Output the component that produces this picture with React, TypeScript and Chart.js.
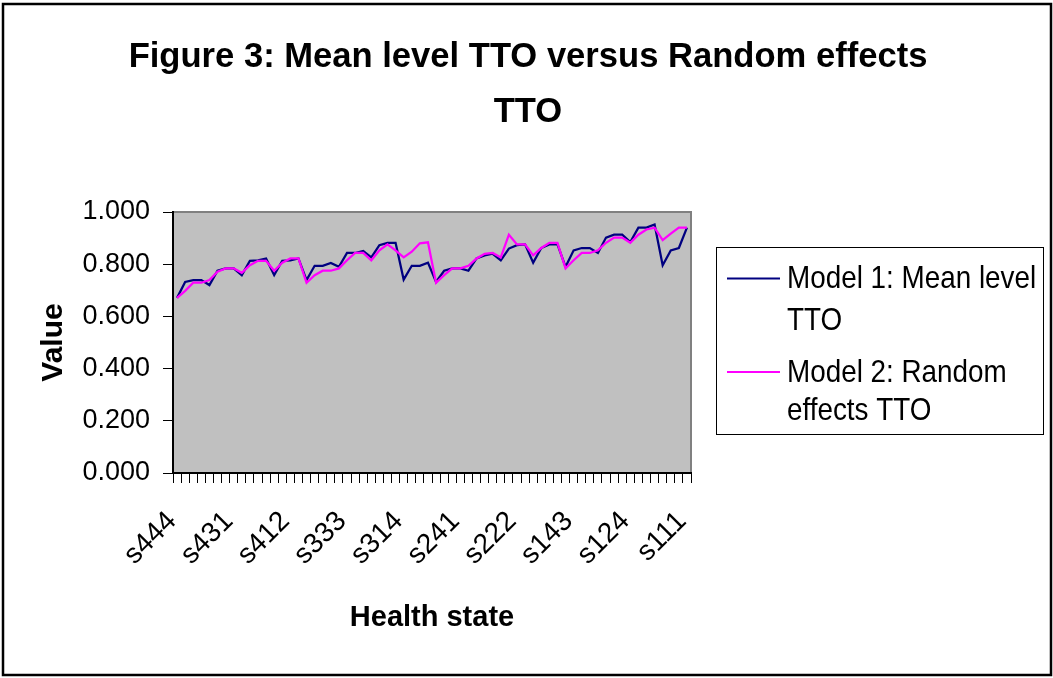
import React, { useEffect, useRef } from "react";
import { Chart, registerables } from "chart.js";

Chart.register(...registerables);

const healthStates = [
  "s444", "s443", "s442", "s441", "s434", "s433", "s432", "s431",
  "s424", "s423", "s422", "s421", "s414", "s413", "s412", "s411",
  "s344", "s343", "s342", "s341", "s334", "s333", "s332", "s331",
  "s324", "s323", "s322", "s321", "s314", "s313", "s312", "s311",
  "s244", "s243", "s242", "s241", "s234", "s233", "s232", "s231",
  "s224", "s223", "s222", "s221", "s214", "s213", "s212", "s211",
  "s144", "s143", "s142", "s141", "s134", "s133", "s132", "s131",
  "s124", "s123", "s122", "s121", "s114", "s113", "s112", "s111",
];

const shownTickLabels = ["s444", "s431", "s412", "s333", "s314", "s241", "s222", "s143", "s124", "s111"];

const model1Values = [
  0.671, 0.732, 0.739, 0.739, 0.720, 0.775, 0.784, 0.784,
  0.758, 0.813, 0.815, 0.822, 0.758, 0.813, 0.815, 0.822,
  0.739, 0.794, 0.794, 0.805, 0.790, 0.843, 0.843, 0.851,
  0.826, 0.873, 0.882, 0.882, 0.741, 0.794, 0.794, 0.806,
  0.732, 0.775, 0.784, 0.784, 0.775, 0.822, 0.834, 0.840,
  0.815, 0.860, 0.873, 0.876, 0.806, 0.862, 0.876, 0.876,
  0.790, 0.853, 0.862, 0.862, 0.843, 0.902, 0.913, 0.913,
  0.885, 0.940, 0.940, 0.952, 0.796, 0.853, 0.862, 0.940,
];

const model2Values = [
  0.671, 0.698, 0.729, 0.729, 0.739, 0.771, 0.784, 0.784,
  0.767, 0.796, 0.813, 0.813, 0.775, 0.806, 0.822, 0.822,
  0.729, 0.758, 0.775, 0.775, 0.784, 0.815, 0.843, 0.843,
  0.815, 0.853, 0.876, 0.853, 0.826, 0.848, 0.880, 0.884,
  0.729, 0.758, 0.784, 0.784, 0.794, 0.822, 0.840, 0.843,
  0.826, 0.913, 0.876, 0.876, 0.834, 0.862, 0.882, 0.882,
  0.784, 0.815, 0.843, 0.843, 0.853, 0.882, 0.902, 0.902,
  0.882, 0.913, 0.933, 0.940, 0.892, 0.917, 0.940, 0.940,
];

const seriesNames = ["Model 1: Mean level TTO", "Model 2: Random effects TTO"];
const legendLines = [["Model 1: Mean level", "TTO"], ["Model 2: Random", "effects TTO"]];
const seriesColors = ["#000080", "#FF00FF"];
const titleLines = ["Figure 3: Mean level TTO versus Random effects", "TTO"];
const xAxisTitle = "Health state";
const yAxisTitle = "Value";

const FONT = "'Liberation Sans', Arial, Helvetica, sans-serif";

function drawText(ctx: CanvasRenderingContext2D, text: string, x: number, y: number, font: string, sx: number, align: CanvasTextAlign) {
  ctx.save();
  ctx.translate(x, y);
  ctx.scale(sx, 1);
  ctx.font = font;
  ctx.textAlign = align;
  ctx.textBaseline = "alphabetic";
  ctx.fillStyle = "#000";
  ctx.fillText(text, 0, 0);
  ctx.restore();
}

const decorPlugin = {
  id: "decor",
  beforeDraw(chart: any) {
    const ctx = chart.ctx as CanvasRenderingContext2D;
    const a = chart.chartArea;
    ctx.save();
    ctx.fillStyle = "#ffffff";
    ctx.fillRect(0, 0, chart.width, chart.height);
    ctx.fillStyle = "#c0c0c0";
    ctx.fillRect(a.left, a.top, a.right - a.left, a.bottom - a.top);
    ctx.strokeStyle = "#808080";
    ctx.lineWidth = 2;
    ctx.beginPath();
    ctx.moveTo(a.left, a.top);
    ctx.lineTo(a.right, a.top);
    ctx.lineTo(a.right, a.bottom);
    ctx.stroke();
    ctx.restore();
  },
  afterDraw(chart: any) {
    const ctx = chart.ctx as CanvasRenderingContext2D;
    ctx.save();
    // outer frame
    ctx.strokeStyle = "#000";
    ctx.lineWidth = 2.5;
    ctx.strokeRect(3, 4, 1048, 671);
    // title
    drawText(ctx, titleLines[0], 528, 67, `bold 34.6px ${FONT}`, 1, "center");
    drawText(ctx, titleLines[1], 528, 122, `bold 34.6px ${FONT}`, 1, "center");
    // legend box
    ctx.strokeStyle = "#000";
    ctx.lineWidth = 1;
    ctx.strokeRect(716.5, 247.5, 327, 187);
    const entryTops = [288, 382];
    const sampleY = [278.5, 372];
    for (let i = 0; i < legendLines.length; i++) {
      ctx.strokeStyle = seriesColors[i];
      ctx.lineWidth = 2;
      ctx.beginPath();
      ctx.moveTo(727, sampleY[i]);
      ctx.lineTo(780, sampleY[i]);
      ctx.stroke();
      legendLines[i].forEach((line, j) => {
        drawText(ctx, line, 787, entryTops[i] + j * (i === 0 ? 41.6 : 38.3), `32px ${FONT}`, 0.87, "left");
      });
    }
    ctx.restore();
  },
};

export default function App() {
  const canvasRef = useRef<HTMLCanvasElement | null>(null);

  useEffect(() => {
    if (!canvasRef.current) return;
    const chart = new Chart(canvasRef.current, {
      type: "line",
      data: {
        labels: healthStates,
        datasets: [
          {
            label: seriesNames[0],
            data: model1Values,
            borderColor: seriesColors[0],
            backgroundColor: seriesColors[0],
            borderWidth: 2.25,
            pointRadius: 0,
            tension: 0,
            order: 2,
          },
          {
            label: seriesNames[1],
            data: model2Values,
            borderColor: seriesColors[1],
            backgroundColor: seriesColors[1],
            borderWidth: 2.25,
            pointRadius: 0,
            tension: 0,
            order: 1,
          },
        ],
      },
      options: {
        animation: false,
        responsive: true,
        maintainAspectRatio: false,
        devicePixelRatio: 1,
        layout: { padding: { top: 212, right: 362, bottom: 0, left: 0 } },
        plugins: {
          legend: { display: false },
          title: { display: false },
          tooltip: { enabled: false },
        },
        scales: {
          x: {
            type: "category",
            offset: true,
            afterFit(scale: any) {
              scale.height = 205;
            },
            grid: {
              offset: true,
              drawOnChartArea: false,
              drawTicks: true,
              tickLength: 10,
              color: "#000",
              lineWidth: 1,
            },
            border: { display: true, color: "#000", width: 2 },
            ticks: {
              autoSkip: false,
              minRotation: 45,
              maxRotation: 45,
              padding: 22,
              labelOffset: -5,
              color: "#000",
              font: { family: FONT, size: 28 },
              callback(this: any, value: any, index: number) {
                const l = healthStates[index];
                return shownTickLabels.includes(l) ? l : "";
              },
            },
            title: {
              display: true,
              text: xAxisTitle,
              color: "#000",
              font: { family: FONT, size: 29, weight: "bold" },
              padding: { top: 0, bottom: 43 },
            },
          },
          y: {
            min: 0,
            max: 1,
            afterFit(scale: any) {
              scale.width = 173;
            },
            grid: {
              drawOnChartArea: false,
              drawTicks: true,
              tickLength: 10,
              color: "#000",
              lineWidth: 1,
            },
            border: { display: true, color: "#000", width: 2 },
            ticks: {
              stepSize: 0.2,
              padding: 13,
              color: "#000",
              font: { family: FONT, size: 27 },
              callback: (v: any) => Number(v).toFixed(3),
            },
            title: {
              display: true,
              text: yAxisTitle,
              color: "#000",
              font: { family: FONT, size: 30, weight: "bold" },
              padding: { top: 36, bottom: 0 },
            },
          },
        },
      },
      plugins: [decorPlugin],
    });
    return () => chart.destroy();
  }, []);

  return (
    <div style={{ position: "absolute", left: 0, top: 0, width: 1053, height: 678 }}>
      <canvas ref={canvasRef} />
    </div>
  );
}
